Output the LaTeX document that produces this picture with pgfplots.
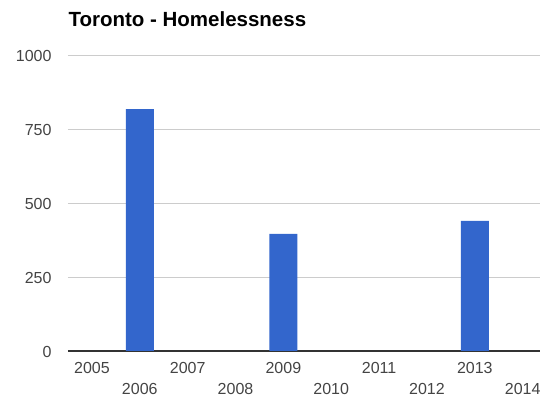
\documentclass[border=0pt]{standalone}
\usepackage{pgfplots}
\pgfplotsset{compat=1.18}
\usepackage{fontspec}
\setmainfont{Liberation Sans}
\definecolor{barblue}{HTML}{3366CC}
\definecolor{ticktext}{HTML}{444444}
\definecolor{gridgray}{HTML}{CCCCCC}
\definecolor{basegray}{HTML}{333333}
\begin{document}
\begin{tikzpicture}
\begin{axis}[
  name=ax,
  scale only axis,
  width=478.6pt, height=296pt,
  xmin=2004.5, xmax=2014.5,
  ymin=0, ymax=1000,
  axis line style={draw=none},
  major tick length=0pt,
  ytick={250,500,750,1000},
  extra y ticks={0},
  extra y tick style={major grid style={color=basegray, line width=1.2pt}},
  ymajorgrids,
  major grid style={color=gridgray, line width=0.8pt},
  xtick={2005,2006,2007,2008,2009,2010,2011,2012,2013,2014},
  xticklabels={2005,\raisebox{-20.3pt}{2006},2007,\raisebox{-20.3pt}{2008},2009,\raisebox{-20.3pt}{2010},2011,\raisebox{-20.3pt}{2012},2013,\raisebox{-20.3pt}{2014}},
  xticklabel style={anchor=base, yshift=-23pt, inner sep=0pt, font=\fontsize{16}{18}\selectfont, text=ticktext},
  yticklabel style={anchor=base east, xshift=-16.3pt, yshift=-6.7pt, inner sep=0pt, font=\fontsize{16}{18}\selectfont, text=ticktext},
  /pgf/number format/assume math mode=true,
  /pgf/number format/1000 sep={},
  scaled y ticks=false,
  ybar, bar width=28pt,
  clip=false,
]
\addplot[fill=barblue, draw=none] coordinates {(2006,817) (2009,396) (2013,440)};
\end{axis}
\node[anchor=base west, inner sep=0pt, font=\fontsize{20.5}{23}\selectfont\bfseries] at ([xshift=0.3pt, yshift=28.3pt]ax.north west) {Toronto - Homelessness};
\pgfresetboundingbox
\path ([xshift=-68pt, yshift=-47pt]ax.south west) rectangle ([xshift=472pt, yshift=55pt]ax.north west);
\end{tikzpicture}
\end{document}
